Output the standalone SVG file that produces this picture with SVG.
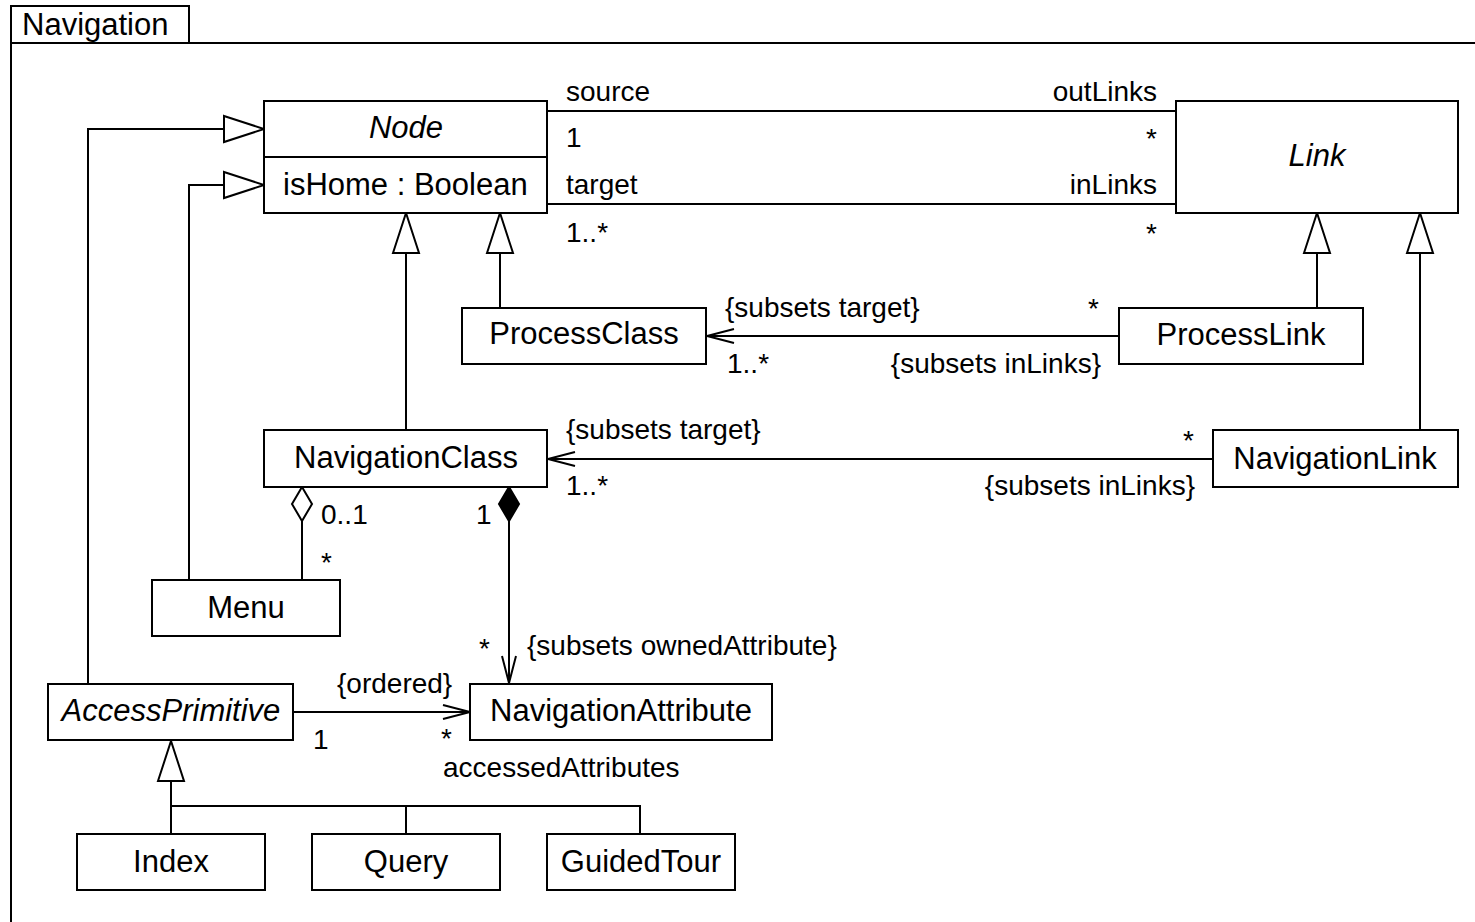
<svg xmlns="http://www.w3.org/2000/svg" width="1475" height="922" viewBox="0 0 1475 922">
  <style>
    .box { fill: #fff; stroke: #000; stroke-width: 2; }
    .ln { fill: none; stroke: #000; stroke-width: 2; }
    text { font-family: "Liberation Sans", Arial, sans-serif; fill: #000; }
    .cls { font-size: 31px; text-anchor: middle; }
    .ab { font-style: italic; }
    .lbl { font-size: 28px; }
    .end { text-anchor: end; }
  </style>
  <defs>
    <!-- hollow triangle for generalization -->
    <marker id="gen" markerUnits="userSpaceOnUse" markerWidth="44" markerHeight="30" refX="40" refY="13" orient="auto" overflow="visible">
      <path d="M0,0 L40,13 L0,26 Z" fill="#fff" stroke="#000" stroke-width="2"/>
    </marker>
    <!-- open arrowhead for navigable ends -->
    <marker id="open" markerUnits="userSpaceOnUse" markerWidth="30" markerHeight="16" refX="27" refY="7" orient="auto" overflow="visible">
      <path d="M0,0 L27,7 L0,14" fill="none" stroke="#000" stroke-width="2"/>
    </marker>
    <!-- aggregation / composition diamonds -->
    <marker id="agg" markerUnits="userSpaceOnUse" markerWidth="36" markerHeight="22" refX="0" refY="10" orient="auto" overflow="visible">
      <path d="M0,10 L17,0 L34,10 L17,20 Z" fill="#fff" stroke="#000" stroke-width="2"/>
    </marker>
    <marker id="comp" markerUnits="userSpaceOnUse" markerWidth="36" markerHeight="22" refX="0" refY="10" orient="auto" overflow="visible">
      <path d="M0,10 L17,0 L34,10 L17,20 Z" fill="#000" stroke="#000" stroke-width="2"/>
    </marker>
  </defs>

  <rect width="1475" height="922" fill="#fff"/>

  <!-- package frame -->
  <g id="frame">
    <path class="ln" d="M11,930 V6 H189 V43 M11,43 H1480"/>
    <text x="22" y="35" style="font-size:31px">Navigation</text>
  </g>

  <!-- connectors -->
  <g id="connectors">
    <!-- Node - Link associations -->
    <path class="ln" d="M547,111 H1176"/>
    <path class="ln" d="M547,204 H1176"/>
    <!-- generalizations to Node -->
    <path class="ln" d="M88,684 V129 H264" marker-end="url(#gen)"/>
    <path class="ln" d="M189,580 V185 H264" marker-end="url(#gen)"/>
    <path class="ln" d="M406,430 V213" marker-end="url(#gen)"/>
    <path class="ln" d="M500,307 V213" marker-end="url(#gen)"/>
    <!-- generalizations to Link -->
    <path class="ln" d="M1317,307 V213" marker-end="url(#gen)"/>
    <path class="ln" d="M1420,430 V213" marker-end="url(#gen)"/>
    <!-- ProcessLink -> ProcessClass -->
    <path class="ln" d="M1119,336 H707" marker-end="url(#open)"/>
    <!-- NavigationLink -> NavigationClass -->
    <path class="ln" d="M1213,459 H548" marker-end="url(#open)"/>
    <!-- Menu aggregation -->
    <path class="ln" d="M302,487 V580" marker-start="url(#agg)"/>
    <!-- owned attributes composition -->
    <path class="ln" d="M509,487 V683" marker-start="url(#comp)" marker-end="url(#open)"/>
    <!-- accessed attributes -->
    <path class="ln" d="M293,712 H470" marker-end="url(#open)"/>
    <!-- AccessPrimitive specializations -->
    <path class="ln" d="M171,806 V741" marker-end="url(#gen)"/>
    <path class="ln" d="M171,834 V806 H640 V834 M406,806 V834"/>

    <!-- end labels -->
    <text class="lbl" x="566" y="101">source</text>
    <text class="lbl" x="566" y="147">1</text>
    <text class="lbl end" x="1157" y="101">outLinks</text>
    <text class="lbl end" x="1157" y="148">*</text>
    <text class="lbl" x="566" y="194">target</text>
    <text class="lbl" x="566" y="242">1..*</text>
    <text class="lbl end" x="1157" y="194">inLinks</text>
    <text class="lbl end" x="1157" y="243">*</text>

    <text class="lbl" x="725" y="317">{subsets target}</text>
    <text class="lbl" x="727" y="373">1..*</text>
    <text class="lbl" x="1088" y="318">*</text>
    <text class="lbl end" x="1101" y="373">{subsets inLinks}</text>

    <text class="lbl" x="566" y="439">{subsets target}</text>
    <text class="lbl" x="566" y="495">1..*</text>
    <text class="lbl" x="1183" y="450">*</text>
    <text class="lbl end" x="1195" y="495">{subsets inLinks}</text>

    <text class="lbl" x="321" y="524">0..1</text>
    <text class="lbl" x="321" y="572">*</text>
    <text class="lbl" x="476" y="524">1</text>
    <text class="lbl" x="479" y="658">*</text>
    <text class="lbl" x="527" y="655">{subsets ownedAttribute}</text>

    <text class="lbl" x="337" y="693">{ordered}</text>
    <text class="lbl" x="313" y="749">1</text>
    <text class="lbl" x="441" y="748">*</text>
    <text class="lbl" x="443" y="777">accessedAttributes</text>
  </g>

  <!-- classes -->
  <g id="Node">
    <rect class="box" x="264" y="101" width="283" height="112"/>
    <path class="ln" d="M264,157 H547"/>
    <text class="cls ab" x="406" y="138">Node</text>
    <text x="283" y="195" style="font-size:31px">isHome : Boolean</text>
  </g>
  <g id="Link">
    <rect class="box" x="1176" y="101" width="282" height="112"/>
    <text class="cls ab" x="1317" y="166">Link</text>
  </g>
  <g id="ProcessClass">
    <rect class="box" x="462" y="308" width="244" height="56"/>
    <text class="cls" x="584" y="344">ProcessClass</text>
  </g>
  <g id="ProcessLink">
    <rect class="box" x="1119" y="308" width="244" height="56"/>
    <text class="cls" x="1241" y="345">ProcessLink</text>
  </g>
  <g id="NavigationClass">
    <rect class="box" x="264" y="430" width="283" height="57"/>
    <text class="cls" x="406" y="468">NavigationClass</text>
  </g>
  <g id="NavigationLink">
    <rect class="box" x="1213" y="430" width="245" height="57"/>
    <text class="cls" x="1335" y="469">NavigationLink</text>
  </g>
  <g id="Menu">
    <rect class="box" x="152" y="580" width="188" height="56"/>
    <text class="cls" x="246" y="618">Menu</text>
  </g>
  <g id="AccessPrimitive">
    <rect class="box" x="48" y="684" width="245" height="56"/>
    <text class="cls ab" x="171" y="721">AccessPrimitive</text>
  </g>
  <g id="NavigationAttribute">
    <rect class="box" x="470" y="684" width="302" height="56"/>
    <text class="cls" x="621" y="721">NavigationAttribute</text>
  </g>
  <g id="Index">
    <rect class="box" x="77" y="834" width="188" height="56"/>
    <text class="cls" x="171" y="872">Index</text>
  </g>
  <g id="Query">
    <rect class="box" x="312" y="834" width="188" height="56"/>
    <text class="cls" x="406" y="872">Query</text>
  </g>
  <g id="GuidedTour">
    <rect class="box" x="547" y="834" width="188" height="56"/>
    <text class="cls" x="641" y="872">GuidedTour</text>
  </g>
</svg>
